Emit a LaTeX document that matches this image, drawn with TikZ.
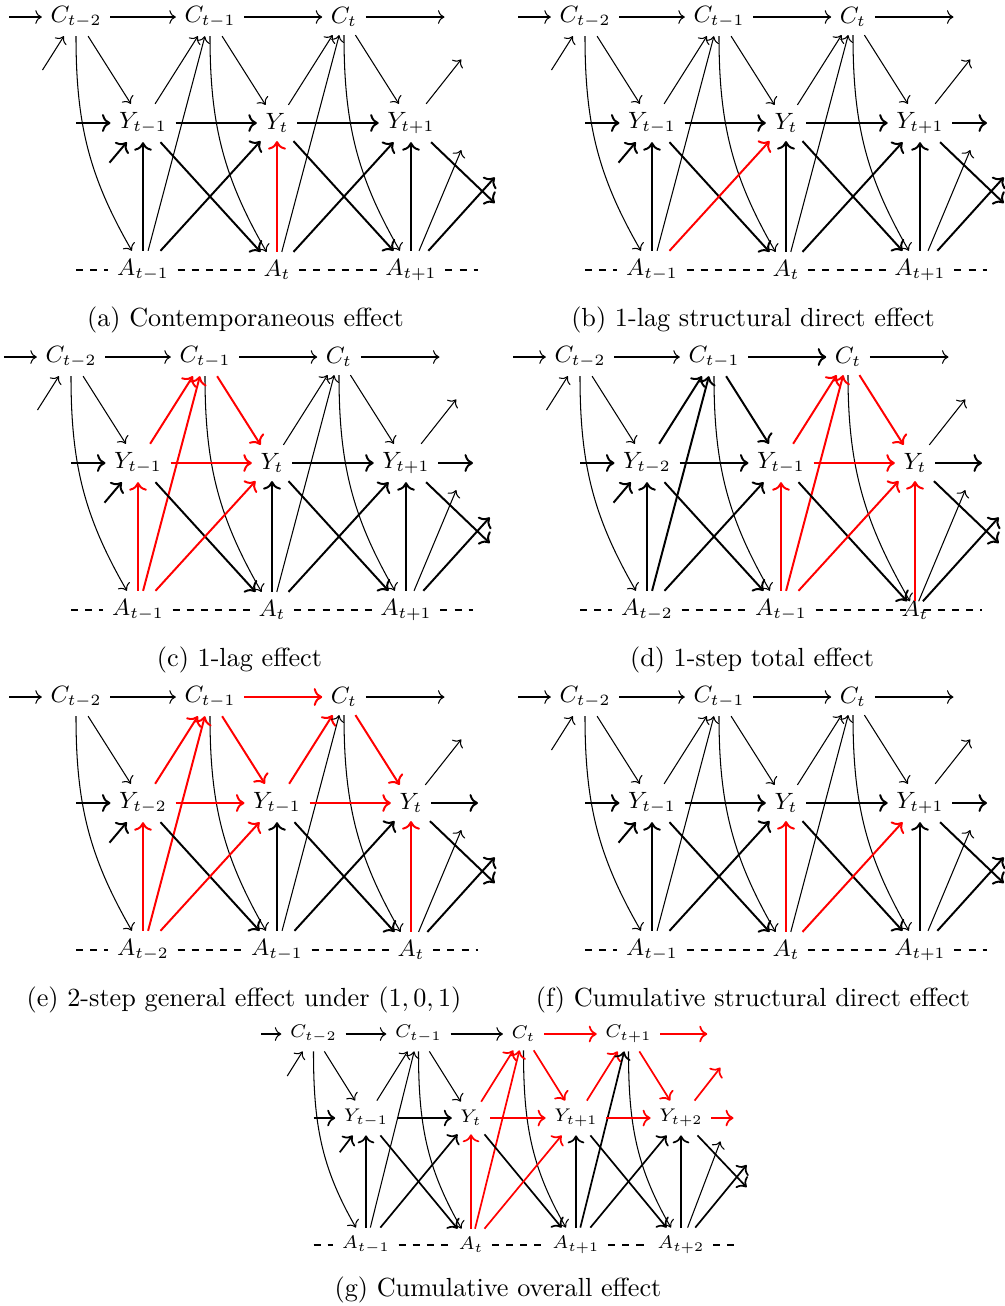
\documentclass[tikz,border=0pt]{standalone}
\usetikzlibrary{arrows.meta}
\def\pfont{\fontsize{8.8}{10.5}\selectfont}
\def\tkw{0.75pt}
\tikzset{
  vn/.style={inner sep=0.3333em, outer sep=0pt, font=\pfont},
  tn/.style={->, line width=0.4pt},
  tk/.style={->, line width=\tkw},
  hl/.style={draw=red, line width=\tkw},
  bk/.style={draw=black, line width=\tkw},
  dl/.style={line width=\tkw, dash pattern=on 2.7pt off 2.7pt},
  capn/.style={font=\fontsize{10}{12}\selectfont, inner sep=0pt},
}
\newif\ifdrawYR \drawYRtrue
\newif\ifdrawCLL \drawCLLtrue
\newif\ifspecA \specAfalse
\newif\iffourc \fourcfalse
\newcommand\panel[5]{%
  \iffourc\def\pN{4}\pgfmathsetmacro\pxn{3*\pS}\else\def\pN{3}\pgfmathsetmacro\pxn{2*\pS}\fi
  \pgfmathsetmacro\pya{\pVA+\pVB}%
  % C nodes
  \node[vn] (#1C1) at (0,0) {$C_{t-2}$};
  \node[vn] (#1C2) at ({\pS},0) {$C_{t-1}$};
  \node[vn] (#1C3) at ({2*\pS},0) {$C_{t}$};
  \iffourc\node[vn] (#1C4) at ({3*\pS},0) {$C_{t+1}$};\fi
  % Y nodes
  \node[vn] (#1Y1) at ({0.5*\pS},-\pVA) {$Y_{#2}$};
  \node[vn] (#1Y2) at ({1.5*\pS},-\pVA) {$Y_{#3}$};
  \node[vn] (#1Y3) at ({2.5*\pS},-\pVA) {$Y_{#4}$};
  \iffourc\node[vn] (#1Y4) at ({3.5*\pS},-\pVA) {$Y_{#5}$};\fi
  % A nodes
  \node[vn] (#1A1) at ({0.5*\pS},-\pya) {$A_{#2}$};
  \node[vn] (#1A2) at ({1.5*\pS},-\pya) {$A_{#3}$};
  \ifspecA
    \node[vn] (#1A3) at ({2.5*\pS},-\pya) {};
    \node[vn] (#1A3t) at ({2.5*\pS},-\pya) {$A_{#4}$};
  \else
    \node[vn] (#1A3) at ({2.5*\pS},-\pya) {$A_{#4}$};
  \fi
  \iffourc\node[vn] (#1A4) at ({3.5*\pS},-\pya) {$A_{#5}$};\fi
  % free ends
  \coordinate (#1cl) at ({-0.5*\pS},0);
  \coordinate (#1cll) at ({-0.25*\pS},{-0.5*\pVA});
  \coordinate (#1cr) at ({\pxn+0.75*\pS},0);
  \coordinate (#1yl) at (0,-\pVA);
  \coordinate (#1yll) at ({0.25*\pS},{-\pVA-0.27*\pVB});
  \coordinate (#1yr) at ({\pxn+\pS},-\pVA);
  \coordinate (#1yur) at ({\pxn+0.875*\pS},{-0.4*\pVA});
  \coordinate (#1ydr) at ({\pxn+1.125*\pS},{-\pVA-0.545*\pVB});
  \coordinate (#1aur) at ({\pxn+1.125*\pS},{-\pVA-0.37*\pVB});
  \coordinate (#1aurt) at ({\pxn+0.875*\pS},{-\pVA-0.184*\pVB});
  \coordinate (#1al) at (0,-\pya);
  \coordinate (#1ar) at ({\pxn+\pS},-\pya);
  % dashed A row
  \draw[dl] (#1al) -- (#1A1);
  \draw[dl] (#1A1) -- (#1A2);
  \draw[dl] (#1A2) -- (#1A3);
  \iffourc\draw[dl] (#1A3) -- (#1A4);\fi
  \draw[dl] (#1A\pN) -- (#1ar);
  % thin edges
  \draw[tn,eCL/.try] (#1cl) -- (#1C1);
  \ifdrawCLL\draw[tn,eCLL/.try] (#1cll) -- (#1C1);\fi
  \draw[tn,eCC1/.try] (#1C1) -- (#1C2);
  \draw[tn,eCC2/.try] (#1C2) -- (#1C3);
  \iffourc\draw[tn,eCC3/.try] (#1C3) -- (#1C4);\fi
  \draw[tn,eCR/.try] (#1C\pN) -- (#1cr);
  \draw[tn,eCY1/.try] (#1C1) -- (#1Y1);
  \draw[tn,eCY2/.try] (#1C2) -- (#1Y2);
  \draw[tn,eCY3/.try] (#1C3) -- (#1Y3);
  \iffourc\draw[tn,eCY4/.try] (#1C4) -- (#1Y4);\fi
  \draw[tn,eYC1/.try] (#1Y1) -- (#1C2);
  \draw[tn,eYC2/.try] (#1Y2) -- (#1C3);
  \iffourc\draw[tn,eYC3/.try] (#1Y3) -- (#1C4);\fi
  \draw[tn,eYUR/.try] (#1Y\pN) -- (#1yur);
  \draw[tn,eCA1/.try] (#1C1) to[out=-90,in=120] (#1A1);
  \draw[tn,eCA2/.try] (#1C2) to[out=-90,in=120] (#1A2);
  \draw[tn,eCA3/.try] (#1C3) to[out=-90,in=120] (#1A3);
  \iffourc\draw[tn,eCA4/.try] (#1C4) to[out=-90,in=120] (#1A4);\fi
  \draw[tn,eAC1/.try] (#1A1) -- (#1C2);
  \draw[tn,eAC2/.try] (#1A2) -- (#1C3);
  \iffourc\draw[tn,eAC3/.try] (#1A3) -- (#1C4);\fi
  \draw[tn,eAURt/.try] (#1A\pN) -- (#1aurt);
  % thick edges
  \draw[tk,eYL/.try] (#1yl) -- (#1Y1);
  \draw[tk,eYLL/.try] (#1yll) -- (#1Y1);
  \draw[tk,eYY1/.try] (#1Y1) -- (#1Y2);
  \draw[tk,eYY2/.try] (#1Y2) -- (#1Y3);
  \iffourc\draw[tk,eYY3/.try] (#1Y3) -- (#1Y4);\fi
  \ifdrawYR\draw[tk,eYR/.try] (#1Y\pN) -- (#1yr);\fi
  \draw[tk,eYA1/.try] (#1Y1) -- (#1A2);
  \draw[tk,eYA2/.try] (#1Y2) -- (#1A3);
  \iffourc\draw[tk,eYA3/.try] (#1Y3) -- (#1A4);\fi
  \draw[tk,eYDR/.try] (#1Y\pN) -- (#1ydr);
  \draw[tk,eAYd1/.try] (#1A1) -- (#1Y2);
  \draw[tk,eAYd2/.try] (#1A2) -- (#1Y3);
  \iffourc\draw[tk,eAYd3/.try] (#1A3) -- (#1Y4);\fi
  \draw[tk,eAUR/.try] (#1A\pN) -- (#1aur);
  \draw[tk,eAY1/.try] (#1A1) -- (#1Y1);
  \draw[tk,eAY2/.try] (#1A2) -- (#1Y2);
  \draw[tk,eAY3/.try] (#1A3) -- (#1Y3);
  \iffourc\draw[tk,eAY4/.try] (#1A4) -- (#1Y4);\fi
}
\begin{document}
\begin{tikzpicture}[x=0.3817pt, y=0.3817pt]
\useasboundingbox (0,0) rectangle (1005,-1306);
\def\pS{134}\def\pVA{106}\def\pVB{147}
% (a)
\begin{scope}[shift={(76,-17)}, eAY2/.style={hl}]
  \drawYRfalse
  \panel{a}{t-1}{t}{t+1}{}
\end{scope}
% (b)
\begin{scope}[shift={(585,-17)}, eAYd1/.style={hl}]
  \panel{b}{t-1}{t}{t+1}{}
\end{scope}
% (c)
\begin{scope}[shift={(71,-357)}, eYC1/.style={hl}, eAC1/.style={hl},
    eCY2/.style={hl}, eYY1/.style={hl}, eAY1/.style={hl}, eAYd1/.style={hl}]
  \panel{c}{t-1}{t}{t+1}{}
\end{scope}
% (d)
\begin{scope}[shift={(580,-357)}, eYC2/.style={hl}, eAC2/.style={hl},
    eCY3/.style={hl}, eYY2/.style={hl}, eAY2/.style={hl}, eAYd2/.style={hl},
    eAY3/.style={hl}, eCC2/.style={bk}, eYC1/.style={bk}, eAC1/.style={bk},
    eCY2/.style={bk}]
  \specAtrue
  \panel{d}{t-2}{t-1}{t}{}
\end{scope}
% (e)
\begin{scope}[shift={(76,-697)}, eCC2/.style={hl}, eYC1/.style={hl},
    eAC1/.style={hl}, eCY2/.style={hl}, eYY1/.style={hl}, eAY1/.style={hl},
    eAYd1/.style={hl}, eYC2/.style={hl}, eCY3/.style={hl}, eYY2/.style={hl},
    eAY3/.style={hl}]
  \drawCLLfalse
  \panel{e}{t-2}{t-1}{t}{}
\end{scope}
% (f)
\begin{scope}[shift={(585,-697)}, eAY2/.style={hl}, eAYd2/.style={hl}]
  \panel{f}{t-1}{t}{t+1}{}
\end{scope}
% (g)
\begin{scope}[shift={(313.5,-1034)}, eCC3/.style={hl}, eCR/.style={hl},
    eYC2/.style={hl}, eCY3/.style={hl}, eYC3/.style={hl}, eCY4/.style={hl},
    eYUR/.style={hl}, eAC2/.style={hl}, eAC3/.style={bk}, eYY2/.style={hl},
    eYY3/.style={hl}, eYR/.style={hl}, eAY2/.style={hl}, eAYd2/.style={hl}]
  \def\pS{105}\def\pVA{84}\def\pVB{127}
  \def\pfont{\fontsize{7.2}{8.6}\selectfont}
  \def\tkw{0.65pt}
  \fourctrue
  \panel{g}{t-1}{t}{t+1}{t+2}
\end{scope}
% captions
\node[capn] (capa) at (245.5,-319.5) {(a) Contemporaneous effect};
\node[capn] (capb) at (753,-319.5) {(b) 1-lag structural direct effect};
\node[capn] (capc) at (239.5,-659.5) {(c) 1-lag effect};
\node[capn] (capd) at (752,-659.5) {(d) 1-step total effect};
\node[capn] (cape) at (244,-999.5) {(e) 2-step general effect under $(1,0,1)$};
\node[capn] (capf) at (753,-999.5) {(f) Cumulative structural direct effect};
\node[capn] (capg) at (498,-1289.5) {(g) Cumulative overall effect};
\end{tikzpicture}
\end{document}
